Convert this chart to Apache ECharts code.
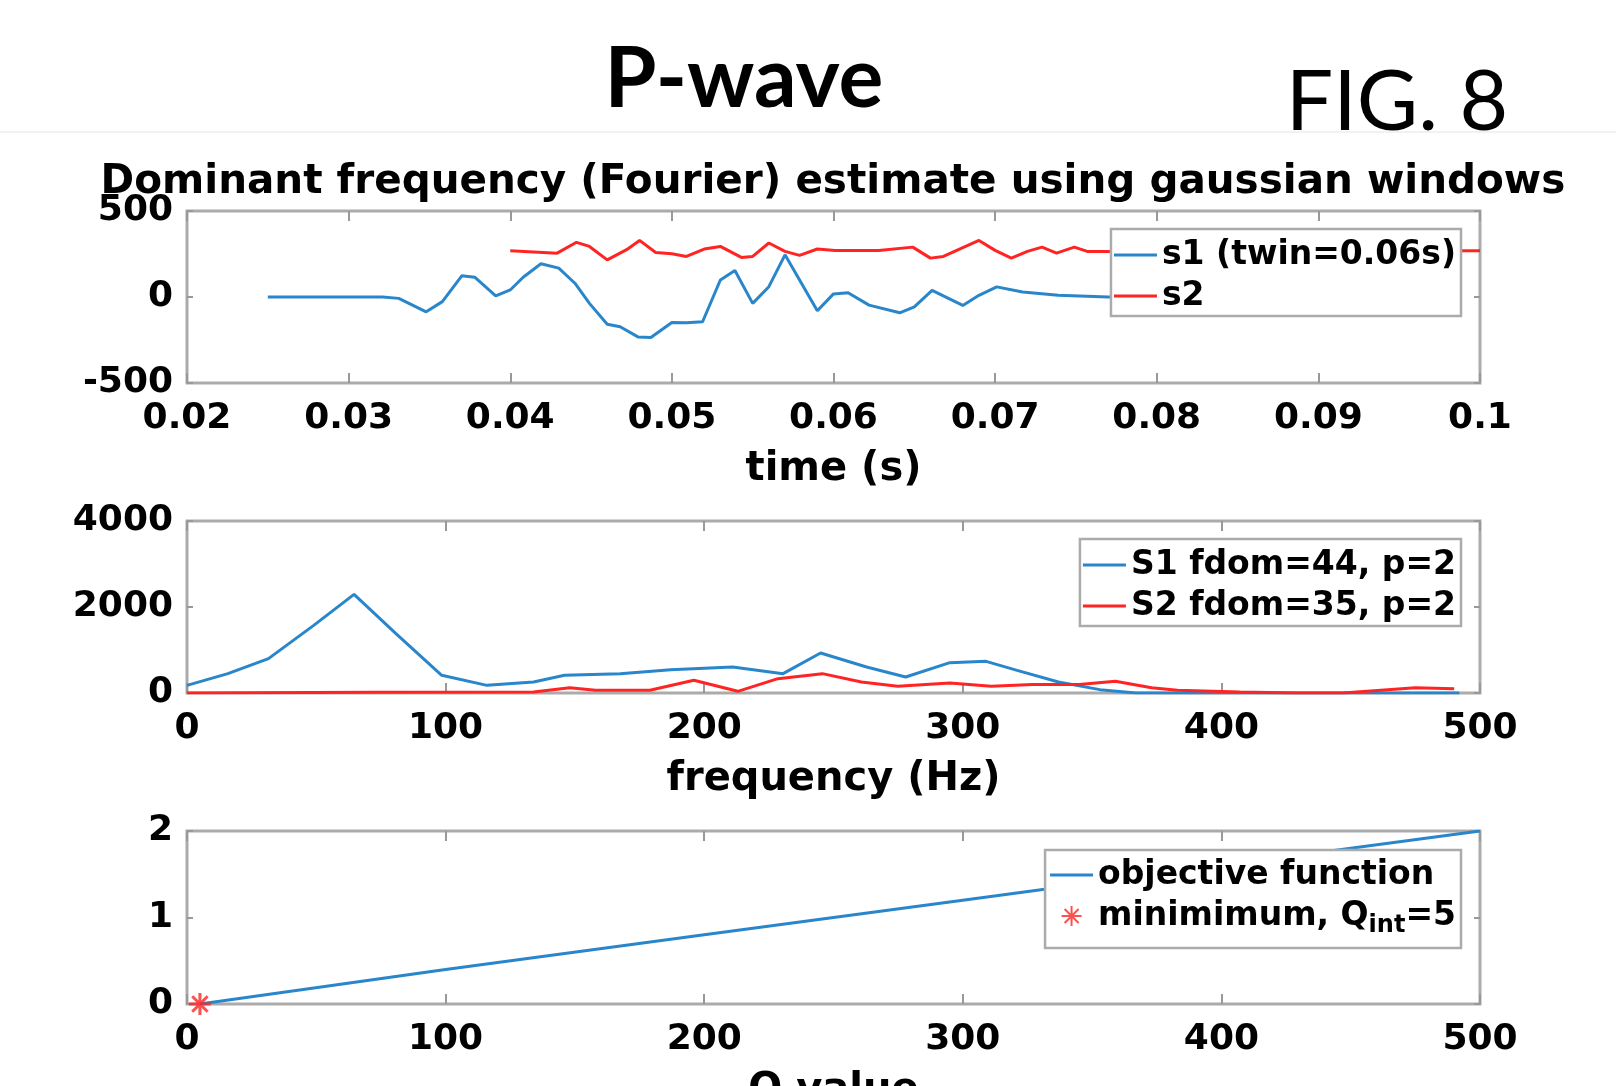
<!DOCTYPE html>
<html>
<head>
<meta charset="utf-8">
<script src="https://cdn.jsdelivr.net/npm/echarts@6/dist/echarts.min.js"></script>
<style>
html, body { margin: 0; padding: 0; background: #fff; }
#chart { width: 1616px; height: 1086px; }
</style>
</head>
<body>
<div id="chart"></div>
<script>
// panel 1: dominant frequency vs time
const s1Time = [0.025, 0.0321, 0.0331, 0.0348, 0.0358, 0.037, 0.0378, 0.0391, 0.04, 0.0408, 0.0419, 0.043, 0.044, 0.0449, 0.046, 0.0468, 0.0479, 0.0487, 0.05, 0.0509, 0.0519, 0.053, 0.0539, 0.055, 0.056, 0.057, 0.059, 0.06, 0.0609, 0.0622, 0.0641, 0.065, 0.0661, 0.068, 0.069, 0.0701, 0.0717, 0.0739, 0.077, 0.08]
const s1Freq = [0, 0, -8, -86, -27, 123, 115, 6, 41, 115, 193, 168, 80, -37, -158, -173, -232, -236, -148, -150, -144, 99, 154, -37, 60, 245, -80, 18, 25, -47, -92, -57, 39, -49, 10, 59, 29, 10, 0, 0]
const s2Time = [0.04, 0.0429, 0.0441, 0.0449, 0.046, 0.0472, 0.048, 0.049, 0.05, 0.0509, 0.052, 0.053, 0.0543, 0.055, 0.056, 0.057, 0.0579, 0.059, 0.0601, 0.0628, 0.0649, 0.066, 0.0668, 0.069, 0.07, 0.071, 0.072, 0.0729, 0.0738, 0.0749, 0.0757, 0.077, 0.1]
const s2Freq = [269, 255, 318, 294, 216, 275, 329, 259, 251, 236, 279, 294, 230, 236, 314, 265, 242, 279, 271, 271, 290, 226, 236, 329, 271, 226, 265, 290, 255, 290, 265, 265, 269]

// panel 2: spectra
const spec1Hz = [0, 15.8, 31.5, 49, 64.6, 80.8, 98.5, 116, 134, 146, 167.5, 187, 211, 230.5, 245, 262.8, 277.9, 295, 309, 321, 337, 353, 367, 400, 450, 492]
const spec1Amp = [178, 450, 800, 1573, 2294, 1380, 411, 178, 256, 411, 450, 543, 605, 450, 930, 605, 372, 705, 736, 527, 256, 78, 0, 0, 0, 0]
const spec2Hz = [0, 73, 134, 148, 158, 179, 196, 213, 228.5, 245.7, 260.8, 274.8, 295, 311, 327, 345, 359, 373, 383, 407, 429, 447, 475, 490]
const spec2Amp = [0, 20, 23, 124, 62, 62, 295, 39, 333, 450, 256, 155, 232, 155, 200, 200, 271, 124, 62, 23, 0, 0, 124, 100]

// panel 3: objective function vs Q
const qValues = [5, 100, 200, 300, 400, 500]
const objective = [0, 0.40, 0.80, 1.20, 1.60, 2.0]
const qMin = [5]
const objMin = [0]

const legend1 = ['s1 (twin=0.06s)', 's2']
const legend2 = ['S1 fdom=44, p=2', 'S2 fdom=35, p=2']
const legend3 = ['objective function', 'minimimum, Q_int=5']

const FONT = 'DejaVu Sans'
const BLUE = '#2a86ca'
const RED = '#ff2424'
const BOX = '#ababab'
const LINE_ICON = 'path://M0,0 H43 V3 H0 Z'
const STAR = 'path://M0,5 L10,5 M5,0 L5,10 M1.5,1.5 L8.5,8.5 M8.5,1.5 L1.5,8.5'

const zip = (xs, ys) => xs.map((x, i) => [x, ys[i]])

const grids = [
  { left: 187, top: 211, width: 1293, height: 172 },
  { left: 187, top: 521, width: 1293, height: 172 },
  { left: 187, top: 831, width: 1293, height: 173 }
]

const labelStyle = { fontFamily: FONT, fontWeight: 'bold', fontSize: 36, color: '#000' }

function xAxes(gi, min, max, interval, name) {
  const base = { type: 'value', gridIndex: gi, min, max, interval, splitLine: { show: false }, axisLine: { show: false, onZero: false } }
  return [
    Object.assign({}, base, {
      position: 'bottom',
      axisTick: { inside: true, length: 10, lineStyle: { color: '#999', width: 2 } },
      axisLabel: Object.assign({ margin: 18 }, labelStyle),
      name, nameLocation: 'middle', nameGap: 67,
      nameTextStyle: Object.assign({}, labelStyle, { fontSize: 40 })
    }),
    Object.assign({}, base, {
      position: 'top',
      axisTick: { inside: true, length: 10, lineStyle: { color: '#999', width: 2 } },
      axisLabel: { show: false }
    })
  ]
}

function yAxes(gi, min, max, interval) {
  const base = { type: 'value', gridIndex: gi, min, max, interval, splitLine: { show: false }, axisLine: { show: false, onZero: false } }
  return [
    Object.assign({}, base, {
      position: 'left',
      axisTick: { inside: true, length: 6, lineStyle: { color: '#999', width: 2 } },
      axisLabel: Object.assign({ margin: 14, formatter: v => String(v) }, labelStyle)
    }),
    Object.assign({}, base, {
      position: 'right',
      axisTick: { inside: true, length: 6, lineStyle: { color: '#999', width: 2 } },
      axisLabel: { show: false }
    })
  ]
}

function legendBox(names, top, icons, extra) {
  return Object.assign({
    orient: 'vertical',
    right: 155,
    top,
    data: names.map((n, i) => ({ name: n, icon: icons[i] })),
    selectedMode: false,
    backgroundColor: '#fff',
    borderColor: BOX,
    borderWidth: 2.5,
    borderRadius: 0,
    padding: [8, 5, 2, 3],
    itemWidth: 43,
    itemHeight: 20,
    itemGap: 5,
    textStyle: { fontFamily: FONT, fontWeight: 'bold', fontSize: 33, lineHeight: 36, color: '#000' }
  }, extra || {})
}

const chart = echarts.init(document.getElementById('chart'))

const option = {
  animation: false,
  backgroundColor: '#fff',
  graphic: [
    { type: 'line', shape: { x1: 0, y1: 132, x2: 1616, y2: 132 }, style: { stroke: '#f2f2f2', lineWidth: 2 } },
    { type: 'text', x: 744, y: 80, style: { text: 'P-wave', fontFamily: 'Lato', fontWeight: 'bold', fontSize: 84, fill: '#000', align: 'center', verticalAlign: 'middle' } },
    { type: 'text', x: 1397, y: 103, style: { text: 'FIG. 8', fontFamily: 'Lato', fontSize: 84, fill: '#000', align: 'center', verticalAlign: 'middle' } },
    { type: 'text', x: 833, y: 182, style: { text: 'Dominant frequency (Fourier) estimate using gaussian windows', fontFamily: FONT, fontWeight: 'bold', fontSize: 40.5, fill: '#000', align: 'center', verticalAlign: 'middle' } }
  ],
  grid: grids.map(g => Object.assign({ show: true, borderColor: BOX, borderWidth: 3, backgroundColor: '#fff', outerBoundsMode: 'none', containLabel: false }, g)),
  xAxis: [].concat(
    xAxes(0, 0.02, 0.1, 0.01, 'time (s)'),
    xAxes(1, 0, 500, 100, 'frequency (Hz)'),
    xAxes(2, 0, 500, 100, 'Q value')
  ),
  yAxis: [].concat(
    yAxes(0, -500, 500, 500),
    yAxes(1, 0, 4000, 2000),
    yAxes(2, 0, 2, 1)
  ),
  legend: [
    legendBox(legend1, 229, [LINE_ICON, LINE_ICON]),
    legendBox(legend2, 539, [LINE_ICON, LINE_ICON]),
    legendBox(legend3, 850, [LINE_ICON, STAR], {
      padding: [7, 5, 10, 5],
      formatter: name => name === legend3[1] ? 'minimimum, Q{sub|int}=5' : name,
      textStyle: {
        fontFamily: FONT, fontWeight: 'bold', fontSize: 33, lineHeight: 36, color: '#000',
        rich: { sub: { fontFamily: FONT, fontWeight: 'bold', fontSize: 24, padding: [20, 0, 0, 0], color: '#000' } }
      }
    })
  ],
  series: [
    { type: 'line', name: legend1[0], xAxisIndex: 0, yAxisIndex: 0, data: zip(s1Time, s1Freq), symbol: 'none', lineStyle: { color: BLUE, width: 3 }, itemStyle: { color: BLUE } },
    { type: 'line', name: legend1[1], xAxisIndex: 0, yAxisIndex: 0, data: zip(s2Time, s2Freq), symbol: 'none', lineStyle: { color: RED, width: 3 }, itemStyle: { color: RED } },
    { type: 'line', name: legend2[0], xAxisIndex: 2, yAxisIndex: 2, data: zip(spec1Hz, spec1Amp), symbol: 'none', lineStyle: { color: BLUE, width: 3 }, itemStyle: { color: BLUE } },
    { type: 'line', name: legend2[1], xAxisIndex: 2, yAxisIndex: 2, data: zip(spec2Hz, spec2Amp), symbol: 'none', lineStyle: { color: RED, width: 3 }, itemStyle: { color: RED } },
    { type: 'line', name: legend3[0], xAxisIndex: 4, yAxisIndex: 4, data: zip(qValues, objective), symbol: 'none', lineStyle: { color: BLUE, width: 3 }, itemStyle: { color: BLUE } },
    { type: 'scatter', name: legend3[1], xAxisIndex: 4, yAxisIndex: 4, data: zip(qMin, objMin), symbol: STAR, symbolSize: 22, itemStyle: { color: 'rgba(0,0,0,0)', borderColor: RED, borderWidth: 3 }, z: 5 }
  ]
}

chart.setOption(option)
</script>
</body>
</html>
